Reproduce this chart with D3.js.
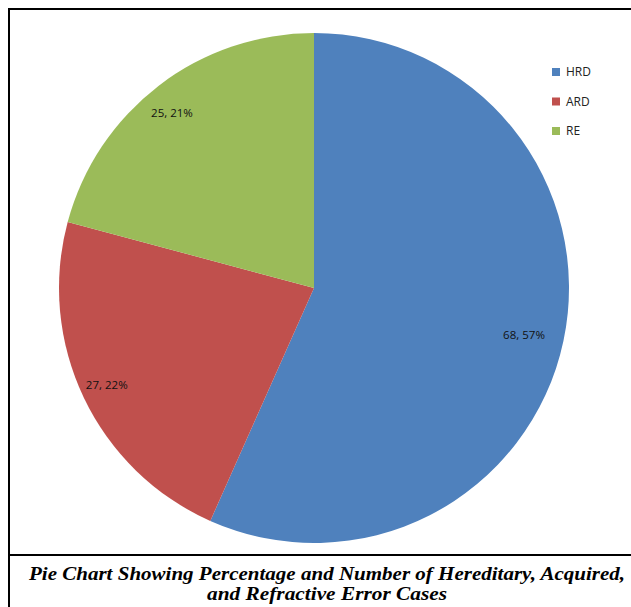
<!DOCTYPE html>
<html><head><meta charset="utf-8">
<script src="https://cdn.jsdelivr.net/npm/d3@7"></script>
<style>
html,body{margin:0;padding:0;background:#fff;}
</style></head>
<body>
<script>
const categories = ["HRD", "ARD", "RE"];
const counts = [68, 27, 25];
const percents = [57, 22, 21];
const colors = ["#4F81BD", "#C0504D", "#9BBB59"];
const captionLines = ["Pie Chart Showing Percentage and Number of Hereditary, Acquired,", "and Refractive Error Cases"];

const W = 631, H = 607;
const svg = d3.select("body").append("svg").attr("width", W).attr("height", H);

// frame
svg.append("line").attr("x1", 8).attr("x2", 631).attr("y1", 9).attr("y2", 9).attr("stroke", "#000").attr("stroke-width", 2);
svg.append("line").attr("x1", 9).attr("x2", 9).attr("y1", 8).attr("y2", 607).attr("stroke", "#000").attr("stroke-width", 2);
svg.append("line").attr("x1", 8).attr("x2", 631).attr("y1", 555).attr("y2", 555).attr("stroke", "#000").attr("stroke-width", 2);

const cx = 314, cy = 288, r = 255;
const data = categories.map((c, i) => ({cat: c, value: counts[i], pct: percents[i], color: colors[i]}));
const pie = d3.pie().sort(null).value(d => d.value);
const arc = d3.arc().innerRadius(0).outerRadius(r);
const labelArc = d3.arc().innerRadius(r * 0.87).outerRadius(r * 0.87);

const g = svg.append("g").attr("transform", `translate(${cx},${cy})`);
const arcs = pie(data);
g.selectAll("path").data(arcs).join("path")
  .attr("d", arc).attr("fill", d => d.data.color);

g.selectAll("text").data(arcs).join("text")
  .attr("transform", d => { const c = labelArc.centroid(d); return `translate(${c[0] - 7},${c[1] + 1})`; })
  .attr("text-anchor", "middle").attr("dy", "0.35em")
  .attr("font-family", "'Open Sans', sans-serif").attr("font-size", 11.5)
  .attr("fill", "#111")
  .text(d => `${d.data.value}, ${d.data.pct}%`);

// legend
const leg = svg.append("g");
const legY = d3.scalePoint().domain(categories).range([72, 131]);
categories.forEach((c, i) => {
  leg.append("rect").attr("x", 552).attr("y", legY(c) - 4).attr("width", 8).attr("height", 8).attr("fill", colors[i]);
  leg.append("text").attr("x", 566).attr("y", legY(c)).attr("dy", "0.35em")
    .attr("font-family", "'Open Sans', sans-serif").attr("font-size", 12).attr("fill", "#222").text(c);
});

// caption
const capWidths = [596, 240];
svg.selectAll("text.cap").data(captionLines).join("text").attr("class", "cap")
  .attr("x", 327).attr("y", (d, i) => 580 + i * 20)
  .attr("text-anchor", "middle")
  .attr("textLength", (d, i) => capWidths[i]).attr("lengthAdjust", "spacingAndGlyphs")
  .attr("font-family", "'Liberation Serif', serif").attr("font-weight", "bold").attr("font-style", "italic")
  .attr("font-size", 19).attr("fill", "#000")
  .text(d => d);
</script>
</body></html>
